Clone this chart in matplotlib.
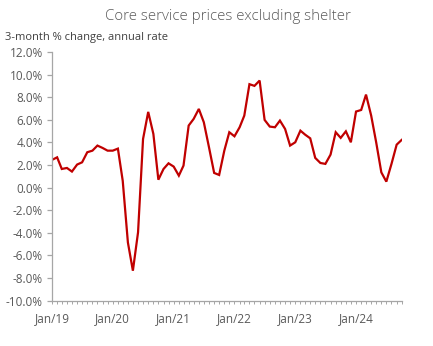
import numpy as np
import pandas as pd
import matplotlib
matplotlib.use("Agg")
import matplotlib.pyplot as plt
import matplotlib.dates as mdates

RED, AXIS, TXT, SUB = "#C00000", "#A6A6A6", "#595959", "#404040"
plt.rcParams["font.family"] = ["Open Sans", "DejaVu Sans"]

# 3-month % change, annual rate, Jan 2019 - Oct 2024
months = pd.date_range("2019-01-01", "2024-10-01", freq="MS")
values = [
    2.45, 2.68, 1.65, 1.74, 1.42, 2.04, 2.24, 3.13, 3.27, 3.72, 3.51, 3.27,   # 2019
    3.27, 3.45, 0.60, -4.85, -7.35, -3.95, 4.30, 6.70, 4.75, 0.70, 1.65, 2.15,  # 2020
    1.86, 1.06, 1.95, 5.49, 6.08, 6.96, 5.78, 3.57, 1.30, 1.12, 3.27, 4.90,   # 2021
    4.54, 5.34, 6.37, 9.15, 9.00, 9.47, 5.99, 5.40, 5.34, 5.93, 5.19, 3.72,   # 2022
    4.01, 5.04, 4.69, 4.36, 2.63, 2.18, 2.10, 2.92, 4.90, 4.40, 4.98, 4.01,   # 2023
    6.73, 6.87, 8.23, 6.37, 4.01, 1.35, 0.53, 2.10, 3.80, 4.22,               # 2024
]
yticks = np.arange(-10, 13, 2)

fig = plt.figure(figsize=(4.33, 3.46), dpi=100)
ax = fig.add_axes([0.120, 0.131, 0.8076, 0.7188])

ax.plot(months, values, color=RED, lw=1.6, solid_joinstyle="miter")

ax.set_xlim(months[0], months[-1])
ax.set_ylim(-10, 12)
ax.set_yticks(yticks)
ax.set_yticklabels([f"{v:.1f}%" for v in yticks])

ax.xaxis.set_major_locator(mdates.MonthLocator(bymonth=1))
ax.xaxis.set_major_formatter(mdates.DateFormatter("Jan/%y"))
ax.xaxis.set_minor_locator(mdates.MonthLocator())

for s in ("top", "right"):
    ax.spines[s].set_visible(False)
for s in ("left", "bottom"):
    ax.spines[s].set_color(AXIS)
    ax.spines[s].set_linewidth(0.9)

ax.tick_params(axis="y", colors=AXIS, labelcolor=TXT, labelsize=8.5,
               length=3.6, width=0.9, pad=3)
ax.tick_params(axis="x", which="both", colors=AXIS, labelcolor=TXT,
               labelsize=8.5, length=2.5, width=0.7, pad=6)

fig.text(0.527, 0.951, "Core service prices excluding shelter", ha="center",
         va="center", fontsize=10.8, color=TXT, fontweight="light")
fig.text(0.012, 0.893, "3-month % change, annual rate", ha="left",
         va="center", fontsize=8.0, color=SUB)

fig.savefig("out.png", dpi=100)
